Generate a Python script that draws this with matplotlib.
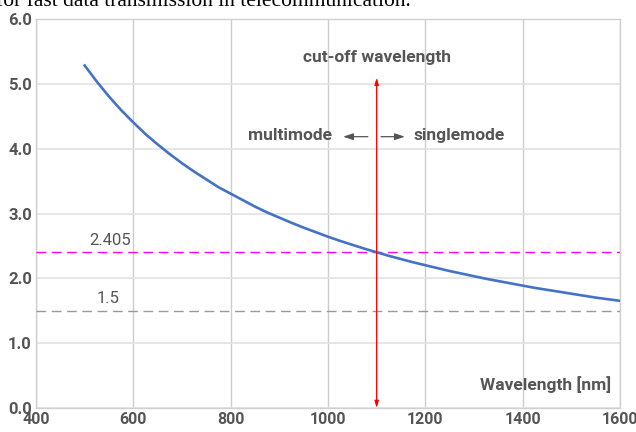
import matplotlib
matplotlib.use("Agg")
import matplotlib.pyplot as plt

# V-number of the fibre
wavelength_nm = [500, 525, 550, 575, 600, 625, 650, 675, 700, 725, 750, 775,
                 800, 825, 850, 875, 900, 925, 950, 975, 1000, 1025, 1050, 1075,
                 1100, 1125, 1150, 1175, 1200, 1225, 1250, 1275, 1300, 1325, 1350,
                 1375, 1400, 1425, 1450, 1475, 1500, 1525, 1550, 1575, 1600]
v_number = [5.29, 5.04, 4.81, 4.60, 4.41, 4.23, 4.07, 3.92, 3.78, 3.65, 3.53, 3.41,
            3.31, 3.21, 3.11, 3.02, 2.94, 2.86, 2.785, 2.715, 2.645, 2.58, 2.52, 2.46,
            2.405, 2.35, 2.30, 2.25, 2.205, 2.16, 2.115, 2.075, 2.035, 1.995, 1.96,
            1.925, 1.89, 1.855, 1.825, 1.795, 1.765, 1.735, 1.705, 1.68, 1.655]

cutoff_nm = 1100
cutoff_top = 5.1
v_singlemode = 2.405
v_ref = 1.5
x_ticks = [400, 600, 800, 1000, 1200, 1400, 1600]
y_ticks = [0.0, 1.0, 2.0, 3.0, 4.0, 5.0, 6.0]

text_color = "#555555"
font = "Roboto"

fig = plt.figure(figsize=(6.36, 4.32), dpi=100)
ax = fig.add_axes([0.0566, 0.0556, 0.9182, 0.8993])

ax.plot(wavelength_nm, v_number, color="#4472c4", lw=1.9, zorder=4)

ax.axhline(v_singlemode, color="#ff00ff", lw=1.0, dashes=(7, 4), zorder=3)
ax.axhline(v_ref, color="#999999", lw=1.0, dashes=(7, 4), zorder=3)
ax.text(594, v_singlemode + 0.07, "2.405", ha="right", va="bottom",
        fontsize=12, color=text_color, family=font)
ax.text(572, v_ref + 0.07, "1.5", ha="right", va="bottom",
        fontsize=12, color=text_color, family=font)

# cut-off marker
ax.annotate("", xy=(cutoff_nm, cutoff_top), xytext=(cutoff_nm, 0),
            arrowprops=dict(arrowstyle="<|-|>,head_length=0.4,head_width=0.12",
                            color="red", lw=0.9, shrinkA=0, shrinkB=0), zorder=5)
ax.text(cutoff_nm, 5.42, "cut-off wavelength", ha="center", va="center",
        fontsize=12.5, color=text_color, family=font, weight="bold")

ax.text(1008, 4.21, "multimode", ha="right", va="center",
        fontsize=12.5, color=text_color, family=font, weight="bold")
ax.text(1175, 4.21, "singlemode", ha="left", va="center",
        fontsize=12.5, color=text_color, family=font, weight="bold")
ax.annotate("", xy=(1031, 4.19), xytext=(1082, 4.19),
            arrowprops=dict(arrowstyle="-|>,head_length=0.6,head_width=0.2",
                            color=text_color, lw=0.9, shrinkA=0, shrinkB=0))
ax.annotate("", xy=(1158, 4.19), xytext=(1109, 4.19),
            arrowprops=dict(arrowstyle="-|>,head_length=0.6,head_width=0.2",
                            color=text_color, lw=0.9, shrinkA=0, shrinkB=0))

ax.text(1582, 0.36, "Wavelength [nm]", ha="right", va="center",
        fontsize=12.5, color=text_color, family=font, weight="bold")

ax.set_xlim(400, 1600)
ax.set_ylim(0, 6)
ax.set_xticks(x_ticks)
ax.set_yticks(y_ticks)
ax.set_yticklabels([f"{v:.1f}" for v in y_ticks])
ax.tick_params(length=0, pad=3, labelsize=12, labelcolor=text_color)
ax.tick_params(axis="x", labelsize=11.5)
for lab in ax.get_xticklabels() + ax.get_yticklabels():
    lab.set_family(font)
    lab.set_weight("bold")

ax.grid(axis="x", color="#cccccc", lw=1.0)
ax.grid(axis="y", color="#e2e2e2", lw=1.2)
ax.set_axisbelow(True)
for s in ax.spines.values():
    s.set_color("#d0d0d0")
    s.set_linewidth(1.0)

# cropped caption line from the page above the chart
fig.text(-0.006, 0.986, "for fast data transmission in telecommunication.",
         ha="left", va="baseline", fontsize=15.5, family="Liberation Serif",
         color="black")

fig.savefig("out.png", dpi=100)
